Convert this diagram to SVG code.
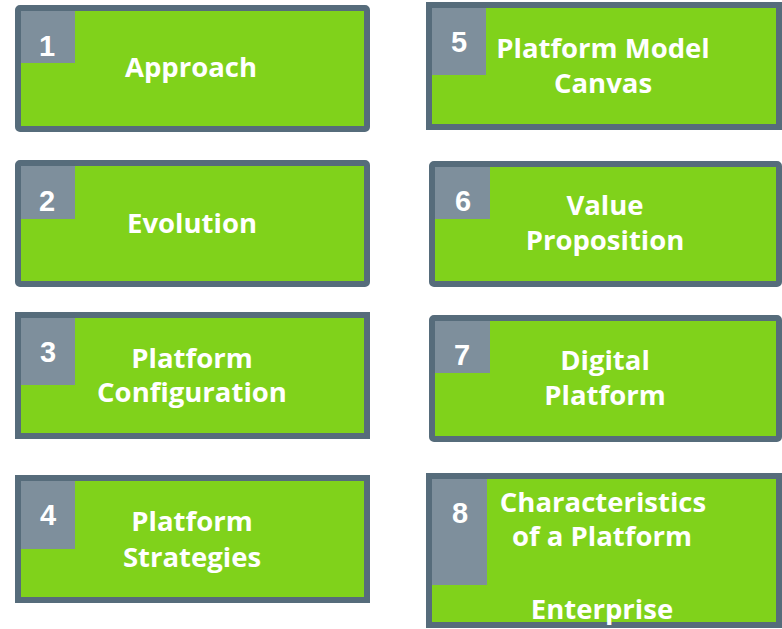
<svg xmlns="http://www.w3.org/2000/svg" width="782" height="629" viewBox="0 0 782 629">
  <style>
    .card { fill: #80d21b; stroke: #566c7b; stroke-width: 6; }
    .tile { fill: #7e8f9c; }
    .num { font-family: "Liberation Sans", Arial, sans-serif; font-weight: bold; font-size: 29px; fill: #ffffff; text-anchor: middle; }
    .label { font-family: "Open Sans", "Noto Sans", sans-serif; font-weight: 700; font-size: 27.5px; fill: #ffffff; text-anchor: middle; }
  </style>
  <rect width="782" height="629" fill="#ffffff"/>

  <!-- left column -->
  <g id="node-1">
    <rect class="card" x="18" y="8" width="349" height="121" rx="2"/>
    <rect class="tile" x="21" y="11" width="54" height="52"/>
    <text class="num" x="47" y="56">1</text>
    <text class="label" x="191" y="77">Approach</text>
  </g>
  <g id="node-2">
    <rect class="card" x="18" y="163" width="349" height="121" rx="2"/>
    <rect class="tile" x="21" y="166" width="54" height="53"/>
    <text class="num" x="47" y="211">2</text>
    <text class="label" x="192" y="233">Evolution</text>
  </g>
  <g id="node-3">
    <rect class="card" x="18" y="315" width="349" height="121"/>
    <rect class="tile" x="21" y="318" width="54" height="67"/>
    <text class="num" x="48" y="362">3</text>
    <text class="label" x="192" y="368">Platform</text>
    <text class="label" x="192" y="402">Configuration</text>
  </g>
  <g id="node-4">
    <rect class="card" x="18" y="478" width="349" height="122"/>
    <rect class="tile" x="21" y="481" width="54" height="68"/>
    <text class="num" x="48" y="525">4</text>
    <text class="label" x="192" y="531">Platform</text>
    <text class="label" x="192" y="567">Strategies</text>
  </g>

  <!-- right column -->
  <g id="node-5">
    <rect class="card" x="429" y="5" width="350" height="122"/>
    <rect class="tile" x="432" y="8" width="54" height="67"/>
    <text class="num" x="459" y="52">5</text>
    <text class="label" x="603" y="58">Platform Model</text>
    <text class="label" x="603" y="93">Canvas</text>
  </g>
  <g id="node-6">
    <rect class="card" x="432" y="164" width="347" height="120" rx="2"/>
    <rect class="tile" x="435" y="167" width="55" height="52"/>
    <text class="num" x="463" y="211">6</text>
    <text class="label" x="605" y="215">Value</text>
    <text class="label" x="605" y="250">Proposition</text>
  </g>
  <g id="node-7">
    <rect class="card" x="432" y="318" width="347" height="121" rx="2"/>
    <rect class="tile" x="435" y="321" width="55" height="52"/>
    <text class="num" x="462" y="365">7</text>
    <text class="label" x="605" y="370">Digital</text>
    <text class="label" x="605" y="405">Platform</text>
  </g>
  <g id="node-8">
    <rect class="card" x="429" y="476" width="350" height="149"/>
    <rect class="tile" x="432" y="479" width="55" height="106"/>
    <text class="num" x="460" y="523">8</text>
    <text class="label" x="603" y="512">Characteristics</text>
    <text class="label" x="602" y="546">of a Platform</text>
    <text class="label" x="602" y="619">Enterprise</text>
  </g>

  <g id="connectors"></g>
</svg>
